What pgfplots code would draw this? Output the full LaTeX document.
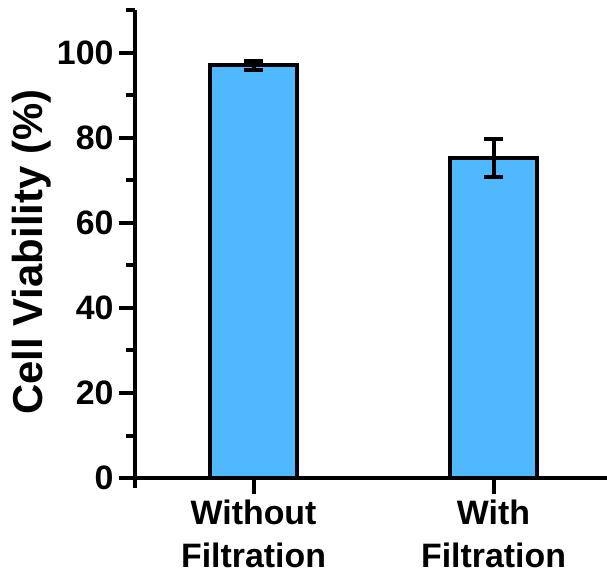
\documentclass[border=0pt]{standalone}
\usepackage{fontspec}
\setmainfont{Liberation Sans}
\usepackage{pgfplots}
\pgfplotsset{compat=1.18}
\definecolor{barblue}{RGB}{80,184,255}
\begin{document}
\begin{tikzpicture}
\begin{axis}[
  at={(0,0)}, anchor=south west,
  scale only axis,
  width=472bp, height=467.5bp,
  xmin=-0.494, xmax=1.473,
  ymin=0, ymax=110,
  axis x line*=bottom, axis y line*=left,
  axis line style={line width=4bp, black},
  ytick={0,20,...,100},
  minor ytick={10,30,...,110},
  xtick={0,1},
  xticklabels={{Without\\Filtration},{With\\Filtration}},
  extra x ticks={-0.494},
  extra x tick labels={},
  extra x tick style={major tick length=10bp},
  tick align=outside,
  major tick length=16bp,
  minor tick length=9bp,
  every tick/.append style={line width=4bp, black},
  every minor tick/.append style={line width=4bp, black},
  every major tick/.append style={line width=4bp, black},
  /pgf/number format/assume math mode=true,
  yticklabel style={font=\fontsize{34}{34}\selectfont\bfseries, xshift=-2bp},
  xticklabel style={font=\fontsize{34}{44}\selectfont\bfseries, align=center, yshift=-2bp},
  ylabel={Cell Viability (\%)},
  ylabel style={font=\fontsize{42}{42}\selectfont\bfseries, at={(axis description cs:-0.218,0.483)}, anchor=center},
  ybar, bar width=0.3625,
  clip=false,
]
\addplot[fill=barblue, draw=black, line width=4bp,
  error bars/.cd, y dir=both, y explicit,
  error bar style={line width=4bp, black},
  error mark options={rotate=90, mark size=9.5bp, line width=4bp, black}]
  coordinates {(0,97.1) +- (0,1.0) (1,75.3) +- (0,4.4)};
\end{axis}
\pgfresetboundingbox
\useasboundingbox (-135bp,-101bp) rectangle (472bp,478bp);
\end{tikzpicture}
\end{document}
